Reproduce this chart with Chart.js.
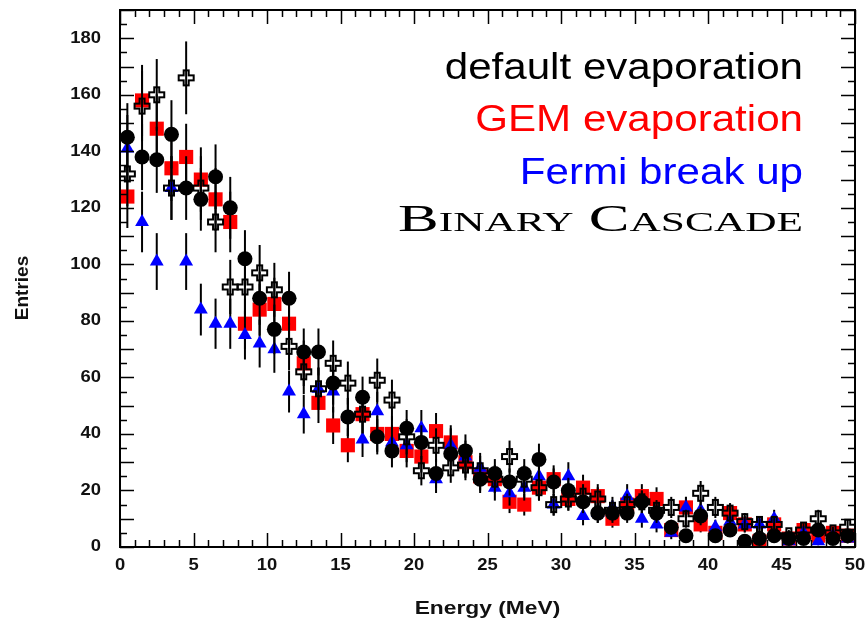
<!DOCTYPE html>
<html lang="en">
<head>
    <meta charset="UTF-8">
    <title>Energy spectrum - evaporation models</title>
    <script src="https://cdn.jsdelivr.net/npm/chart.js@4/dist/chart.umd.min.js"></script>
    <style>
        body {
            margin: 0;
            background: #fff;
        }
        #spectrum {
            display: block;
        }
    </style>
</head>
<body>
    <canvas id="spectrum" width="867" height="627"></canvas>

    <script>
        // bin centres (MeV)
        const energies = [0.5, 1.5, 2.5, 3.5, 4.5, 5.5, 6.5, 7.5, 8.5, 9.5,
            10.5, 11.5, 12.5, 13.5, 14.5, 15.5, 16.5, 17.5, 18.5, 19.5,
            20.5, 21.5, 22.5, 23.5, 24.5, 25.5, 26.5, 27.5, 28.5, 29.5,
            30.5, 31.5, 32.5, 33.5, 34.5, 35.5, 36.5, 37.5, 38.5, 39.5,
            40.5, 41.5, 42.5, 43.5, 44.5, 45.5, 46.5, 47.5, 48.5, 49.5];

        const defaultEvap = [145, 138, 137, 146, 127, 123, 131, 120, 102, 88,
            77, 88, 69, 69, 58, 46, 53, 39, 34, 42,
            37, 26, 33, 34, 24, 26, 23, 26, 31, 23,
            20, 16, 12, 12, 12, 16, 12, 7, 4, 11,
            4, 6, 2, 3, 4, 3, 3, 6, 3, 4];

        const gemEvap = [124, 158, 148, 134, 138, 130, 123, 115, 79, 84,
            86, 79, 65, 51, 43, 36, 47, 40, 40, 34,
            32, 41, 37, 30, 25, 24, 16, 15, 21, 24,
            17, 21, 18, 10, 15, 18, 17, 6, 14, 8,
            5, 12, 8, 2, 8, 3, 6, 4, 5, 4];

        const fermiBreakUp = [141, 115, 101, 127, 101, 84, 79, 79, 75, 72,
            70, 55, 47, 56, 55, 46, 38, 48, 37, 36,
            42, 24, 36, 32, 28, 21, 19, 21, 25, 15,
            25, 11, 12, 14, 18, 10, 8, 5, 14, 13,
            7, 9, 8, 8, 10, 2, 5, 2, 4, 3];

        const binaryCascade = [132, 156, 160, 127, 166, 127, 115, 92, 92, 97,
            91, 71, 62, 56, 65, 58, 47, 59, 52, 39,
            27, 36, 28, 29, 27, 24, 32, 24, 21, 15,
            17, 18, 17, 13, 15, 16, 13, 14, 10, 19,
            14, 12, 9, 8, 8, 4, 6, 10, 5, 7];

        const xTickLabels = ['0', '5', '10', '15', '20', '25', '30', '35', '40', '45', '50'];
        const yTickLabels = ['0', '20', '40', '60', '80', '100', '120', '140', '160', '180'];

        const legendLines = [
            { text: 'default evaporation', color: '#000000' },
            { text: 'GEM evaporation', color: '#ff0000' },
            { text: 'Fermi break up', color: '#0000ff' },
            { text: 'Binary Cascade', color: '#000000' }
        ];

        function points(values) {
            return values.map((v, i) => ({ x: energies[i], y: v }));
        }

        // open cross marker (ROOT style 28)
        function openCross() {
            const c = document.createElement('canvas');
            c.width = 19;
            c.height = 19;
            const g = c.getContext('2d');
            const o = 2, a = 5;
            g.beginPath();
            g.moveTo(o + a, o);
            g.lineTo(o + 2 * a, o);
            g.lineTo(o + 2 * a, o + a);
            g.lineTo(o + 3 * a, o + a);
            g.lineTo(o + 3 * a, o + 2 * a);
            g.lineTo(o + 2 * a, o + 2 * a);
            g.lineTo(o + 2 * a, o + 3 * a);
            g.lineTo(o + a, o + 3 * a);
            g.lineTo(o + a, o + 2 * a);
            g.lineTo(o, o + 2 * a);
            g.lineTo(o, o + a);
            g.lineTo(o + a, o + a);
            g.closePath();
            g.lineWidth = 2;
            g.strokeStyle = '#000';
            g.stroke();
            return c;
        }

        function stretchText(ctx, txt, x, y, font, align, sx, color) {
            ctx.save();
            ctx.font = font;
            ctx.fillStyle = color;
            ctx.textAlign = 'left';
            const w = ctx.measureText(txt).width * sx;
            let left = x;
            if (align === 'right') left = x - w;
            if (align === 'center') left = x - w / 2;
            ctx.translate(left, y);
            ctx.scale(sx, 1);
            ctx.fillText(txt, 0, 0);
            ctx.restore();
        }

        // error bars, drawn under each set of markers
        const errorBars = {
            id: 'errorBars',
            beforeDatasetDraw(chart, args) {
                const ctx = chart.ctx;
                const y = chart.scales.y;
                const area = chart.chartArea;
                ctx.save();
                ctx.beginPath();
                ctx.rect(area.left, area.top, area.right - area.left, area.bottom - area.top);
                ctx.clip();
                ctx.strokeStyle = '#000';
                ctx.lineWidth = 2;
                args.meta.data.forEach((pt, i) => {
                    const v = chart.data.datasets[args.index].data[i].y;
                    if (v <= 0) return;
                    const e = Math.sqrt(v);
                    ctx.beginPath();
                    ctx.moveTo(pt.x, y.getPixelForValue(v - e));
                    ctx.lineTo(pt.x, y.getPixelForValue(v + e));
                    ctx.stroke();
                });
                ctx.restore();
            }
        };

        // frame, inside ticks, labels and the text legend
        const rootFrame = {
            id: 'rootFrame',
            afterDraw(chart) {
                const ctx = chart.ctx;
                const xs = chart.scales.x, ys = chart.scales.y;
                const a = chart.chartArea;
                ctx.save();
                ctx.strokeStyle = '#000';
                ctx.lineWidth = 2;
                ctx.strokeRect(a.left, a.top, a.right - a.left, a.bottom - a.top);

                ctx.lineWidth = 1.5;
                ctx.beginPath();
                for (let e = 0; e <= 50; e++) {
                    const px = Math.round(xs.getPixelForValue(e)) + 0.5;
                    const len = e % 5 === 0 ? 14 : 7;
                    ctx.moveTo(px, a.bottom); ctx.lineTo(px, a.bottom - len);
                    ctx.moveTo(px, a.top); ctx.lineTo(px, a.top + len);
                }
                for (let v = 0; v <= 190; v += 5) {
                    const py = Math.round(ys.getPixelForValue(v)) + 0.5;
                    const len = v % 10 === 0 ? 14 : 7;
                    ctx.moveTo(a.left, py); ctx.lineTo(a.left + len, py);
                    ctx.moveTo(a.right, py); ctx.lineTo(a.right - len, py);
                }
                ctx.stroke();

                ctx.textBaseline = 'middle';
                const tickFont = 'bold 16px "Liberation Sans", Arial, sans-serif';
                xTickLabels.forEach(t => {
                    stretchText(ctx, t, xs.getPixelForValue(Number(t)), 566, tickFont, 'center', 1.15, '#111');
                });
                yTickLabels.forEach(t => {
                    stretchText(ctx, t, 101, ys.getPixelForValue(Number(t)), tickFont, 'right', 1.15, '#111');
                });

                stretchText(ctx, 'Energy (MeV)', (a.left + a.right) / 2, 609,
                    'bold 19px "Liberation Sans", Arial, sans-serif', 'center', 1.2, '#111');

                ctx.save();
                ctx.translate(23, 288);
                ctx.rotate(-Math.PI / 2);
                ctx.font = 'bold 19px "Liberation Sans", Arial, sans-serif';
                ctx.textAlign = 'center';
                ctx.fillStyle = '#111';
                ctx.fillText('Entries', 0, 0);
                ctx.restore();

                ctx.textBaseline = 'alphabetic';
                const baselines = [79, 131, 184, 231];
                legendLines.forEach((l, i) => {
                    if (i < 3) {
                        stretchText(ctx, l.text, 803, baselines[i],
                            '36px "Liberation Sans", Arial, sans-serif', 'right', 1.17, l.color);
                    } else {
                        ctx.save();
                        ctx.font = 'small-caps 38px "Liberation Serif", serif';
                        const w = ctx.measureText(l.text).width;
                        ctx.fillStyle = l.color;
                        ctx.translate(803 - 405, baselines[i]);
                        ctx.scale(405 / w, 1);
                        ctx.fillText(l.text, 0, 0);
                        ctx.restore();
                    }
                });
                ctx.restore();
            }
        };

        const chart = new Chart(document.getElementById('spectrum'), {
            type: 'scatter',
            data: {
                datasets: [{
                    label: 'Binary Cascade',
                    data: points(binaryCascade),
                    pointStyle: openCross(),
                    order: 0
                }, {
                    label: 'default evaporation',
                    data: points(defaultEvap),
                    pointStyle: 'circle',
                    pointRadius: 7.5,
                    backgroundColor: '#000',
                    borderColor: '#000',
                    borderWidth: 0,
                    order: 1
                }, {
                    label: 'Fermi break up',
                    data: points(fermiBreakUp),
                    pointStyle: 'triangle',
                    pointRadius: 8,
                    backgroundColor: '#0000ff',
                    borderColor: '#0000ff',
                    borderWidth: 0,
                    order: 2
                }, {
                    label: 'GEM evaporation',
                    data: points(gemEvap),
                    pointStyle: 'rect',
                    pointRadius: 10,
                    backgroundColor: '#ff0000',
                    borderColor: '#ff0000',
                    borderWidth: 0,
                    order: 3
                }]
            },
            options: {
                responsive: false,
                animation: false,
                clip: 0,
                layout: {
                    padding: { left: 120, right: 12, top: 7, bottom: 80 }
                },
                scales: {
                    x: { type: 'linear', min: 0, max: 50, display: false },
                    y: { type: 'linear', min: 0, max: 190, display: false }
                },
                plugins: {
                    legend: { display: false },
                    tooltip: { enabled: false }
                }
            },
            plugins: [errorBars, rootFrame]
        });
    </script>
</body>
</html>
